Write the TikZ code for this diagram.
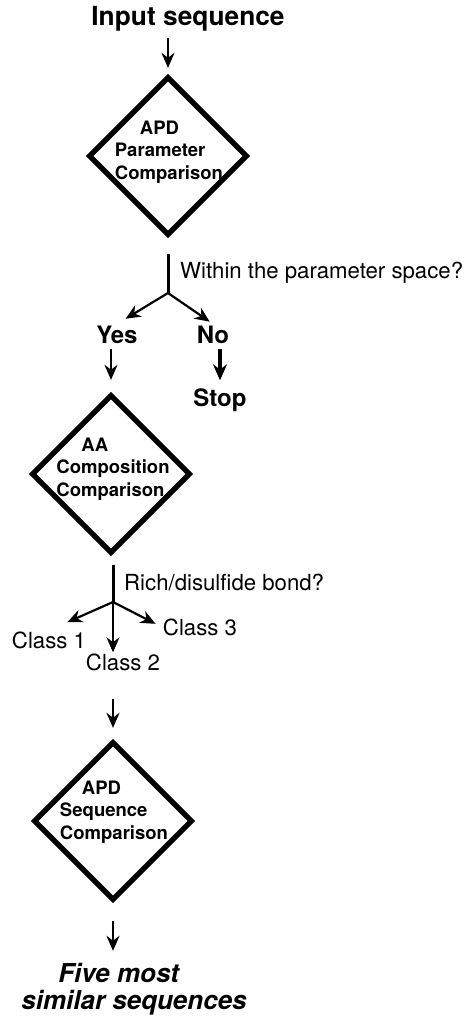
\documentclass[tikz,border=0pt]{standalone}
\usepackage{fontspec}
\setmainfont{TeX Gyre Heros}
\usetikzlibrary{shapes,arrows.meta,calc,positioning}
\tikzset{
	-{Stealth[length=15pt,width=13pt]},
	dec/.style ={diamond, draw, line width=5.3pt, shape aspect=1, minimum size=159pt, inner sep=0pt},
	inner/.style = {font=\fontsize{18.5}{22.5}\selectfont\bfseries, align=left, inner sep=0pt},
	el/.style = {font=\fontsize{22.2}{26}\selectfont, inner sep=1pt}
}

\begin{document}
\begin{tikzpicture}[x=1pt, y=-1pt]
		\tikzstyle{big} = [font=\fontsize{26.3}{28}\selectfont\bfseries, inner sep=2pt]
		\tikzstyle{ans} = [font=\fontsize{24}{28}\selectfont\bfseries, inner sep=2pt]
		\tikzstyle{ar} = [line width=2.2pt]
		\tikzstyle{stem} = [-, line width=3pt]
		\useasboundingbox (0,0) rectangle (463,1016);
		% boxes
		\node[big] (inp) at (188,18.5) {Input sequence};
		\node[dec] (d1) at (168,156) {};
		\node[inner] (t1) at (169,152) {\hspace*{25pt}APD\\Parameter\\Comparison};
		\node[dec] (d2) at (111,474) {};
		\node[inner] (t2) at (113,469) {\hspace*{25pt}AA\\Composition\\Comparison};
		\node[dec] (d3) at (113,821) {};
		\node[inner] (t3) at (114,812) {\hspace*{22pt}APD\\Sequence\\Comparison};
		\node[font=\fontsize{26}{27}\selectfont\bfseries\itshape, align=left, inner sep=0pt]
			(out) at (134,989) {\hspace*{37pt}Five most\\similar sequences};
		% first split
		\coordinate (j1) at (168,293);
		\node[el, anchor=west] (q1) at (179,273) {Within the parameter space?};
		\node[ans] (yes) at (117,335) {Yes};
		\node[ans] (no) at (213,335) {No};
		\node[ans] (stop) at (220,400) {Stop};
		% second split
		\coordinate (j2) at (113,602);
		\node[el, anchor=west] (q2) at (123,582) {Rich/disulfide bond?};
		\node[el] (c1) at (49,640) {Class 1};
		\node[el] (c2) at (123,662) {Class 2};
		\node[el] (c3) at (200,627) {Class 3};
		% connectors
		\draw[ar, shorten <=5pt, shorten >=6pt] (inp.south -| d1) -- (d1.north);
		\draw[stem, shorten <=16pt] (d1.south) -- (j1);
		\draw[ar, shorten >=10pt] (j1) -- (yes.north);
		\draw[ar, shorten >=4pt] (j1) -- (no.north);
		\draw[ar, shorten <=3pt, shorten >=12pt] (yes.south -| d2) -- (d2.north);
		\draw[line width=3.2pt, -{Stealth[length=16pt,width=14pt]}, shorten <=3pt, shorten >=6pt]
			(no.south -| stop) -- (stop.north);
		\draw[stem, shorten <=9pt] (d2.south -| j2) -- (j2);
		\draw[ar, shorten >=20pt] (j2) -- (c1.north);
		\draw[ar] (j2) -- (j2 |- c2.north);
		\draw[ar, shorten >=7pt] (j2) -- (c3.west);
		\draw[ar, shorten <=27pt, shorten >=11pt] (c2.south -| d3) -- (d3.north);
		\draw[ar, shorten <=18pt, shorten >=12pt] (d3.south) -- (out.north -| d3);
\end{tikzpicture}
\end{document}
